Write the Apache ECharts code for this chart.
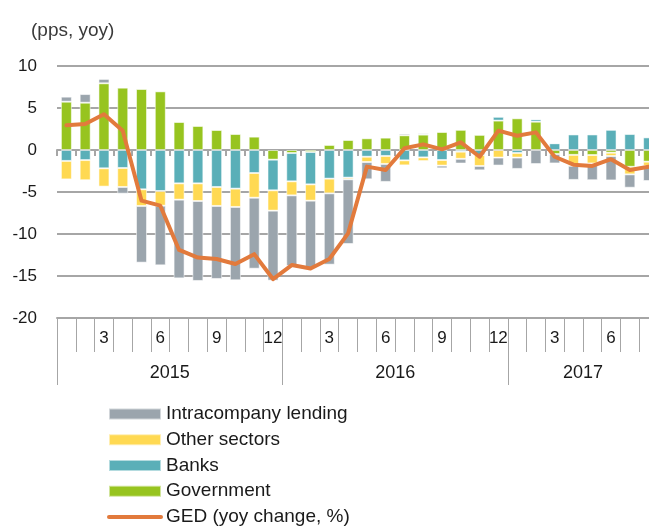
<!DOCTYPE html>
<html>
<head>
    <meta charset="utf-8">
    <title>GED contributions</title>
    <script src="https://cdn.jsdelivr.net/npm/echarts@6/dist/echarts.min.js"></script>
</head>
<body style="margin:0;overflow:hidden;">
    <!-- a bit wider than the window: the last month is cut at the right edge -->
    <div id="main" style="width: 658px;height:527px;"></div>
    <script type="text/javascript">
        var chart = echarts.init(document.getElementById('main'));

        // years shown and how many months of each
        var years = ['2015', '2016', '2017'];
        var monthsInYear = [12, 12, 8];

        // contributions, pps (Jan 2015 .. Aug 2017)
        var government = [5.75, 5.63, 7.94, 7.42, 7.26, 6.98, 3.33, 2.86, 2.38, 1.9, 1.59, -1.15,
            -0.36, -0.24, 0.6, 1.19, 1.39, 1.47, 1.75, 1.83, 2.14, 2.4, 1.8, 3.5,
            3.77, 3.37, -0.48, -0.58, -0.6, -0.32, -2.0, -1.39];
        var banks = [-1.3, -1.2, -2.18, -2.14, -4.68, -4.88, -3.97, -3.97, -4.4, -4.6, -2.74, -3.65,
            -3.37, -3.85, -3.41, -3.29, -0.8, -0.71, -1.23, -0.88, -1.19, -0.2, -0.6, 0.45,
            -0.35, 0.3, 0.8, 1.85, 1.85, 2.4, 1.9, 1.5];
        var otherSectors = [-2.2, -2.4, -2.18, -2.26, -1.98, -1.75, -1.94, -2.1, -2.26, -2.18, -2.94, -2.42,
            -1.67, -1.94, -1.75, -0.2, -0.63, -0.95, -0.6, -0.44, -0.67, -0.85, -1.3, -0.9,
            -0.55, 0, 0, -1.3, -1.0, -0.4, -0.9, -0.5];
        var intracompany = [0.6, 1.03, 0.52, -0.8, -6.75, -7.1, -9.37, -9.52, -8.69, -8.73, -8.45, -8.33,
            -8.41, -8.06, -8.49, -7.7, -2.06, -2.14, 0.2, 0.16, -0.32, -0.56, -0.52, -0.95,
            -1.35, -1.67, -1.12, -1.68, -2.0, -2.9, -1.59, -1.8];
        // GED, yoy change %
        var ged = [2.94, 3.1, 4.25, 2.3, -6.03, -6.63, -11.9, -12.8, -12.98, -13.57, -12.4, -15.36,
            -13.7, -14.1, -12.98, -9.92, -1.98, -2.38, 0.2, 0.67, 0.08, 0.91, -0.8, 2.3,
            1.7, 2.1, -0.8, -1.75, -1.9, -1.1, -2.38, -2.0];

        var categories = [];
        var yearStart = [];
        var yearLabelAt = [];
        years.forEach(function (y, k) {
            yearStart.push(categories.length);
            yearLabelAt.push(categories.length + monthsInYear[k] / 2 - 1);
            for (var m = 1; m <= monthsInYear[k]; m++) categories.push(y + '-' + m);
        });

        var gridColor = '#a6a6a6';
        var font = 'Liberation Sans';

        function barSeries(name, data, color) {
            return {
                name: name,
                type: 'bar',
                stack: 'total',
                barWidth: 11,
                data: data,
                itemStyle: { color: color, borderColor: 'rgba(255,255,255,0.55)', borderWidth: 1 },
                emphasis: { disabled: true }
            };
        }

        var option = {
            backgroundColor: '#fff',
            animation: false,
            textStyle: { fontFamily: font },
            title: {
                text: '(pps, yoy)',
                left: 26,
                top: 16,
                textStyle: { fontSize: 19, fontWeight: 'normal', color: '#3a3a3a', fontFamily: font }
            },
            legend: {
                orient: 'vertical',
                left: 107,
                top: 404,
                height: 200,
                padding: 0,
                itemWidth: 52,
                itemHeight: 11,
                itemGap: 5.75,
                selectedMode: false,
                textStyle: { fontSize: 19, lineHeight: 20, color: '#1a1a1a', fontFamily: font },
                data: [
                    { name: 'Intracompany lending', icon: 'rect' },
                    { name: 'Other sectors', icon: 'rect' },
                    { name: 'Banks', icon: 'rect' },
                    { name: 'Government', icon: 'rect' },
                    {
                        name: 'GED (yoy change, %)',
                        itemStyle: { opacity: 0 },
                        lineStyle: { width: 4, cap: 'round', color: '#e27a3c' }
                    }
                ]
            },
            grid: { left: 57, top: 66, bottom: 209, right: 0 },
            yAxis: {
                type: 'value',
                min: -20,
                max: 10,
                interval: 5,
                axisLine: { show: false },
                axisTick: { show: false },
                axisLabel: { fontSize: 17, color: '#1a1a1a', margin: 20, fontFamily: font },
                splitLine: { lineStyle: { color: gridColor, width: 2 } }
            },
            xAxis: [
                {
                    // zero line with small ticks
                    type: 'category',
                    data: categories,
                    position: 'bottom',
                    axisLine: { onZero: true, lineStyle: { color: gridColor, width: 2 } },
                    axisTick: { show: true, interval: 0, length: 6, lineStyle: { color: gridColor, width: 2 } },
                    axisLabel: { show: false }
                },
                {
                    // months
                    type: 'category',
                    data: categories,
                    position: 'bottom',
                    axisLine: { onZero: false, show: true, lineStyle: { color: gridColor, width: 2 } },
                    axisTick: { show: true, interval: 0, length: 34, lineStyle: { color: gridColor, width: 1 } },
                    axisLabel: {
                        interval: 0,
                        margin: 12,
                        fontSize: 17,
                        color: '#1a1a1a',
                        fontFamily: font,
                        formatter: function (v) {
                            var m = +v.split('-')[1];
                            return m % 3 === 0 ? String(m) : '';
                        }
                    }
                },
                {
                    // years
                    type: 'category',
                    data: categories,
                    position: 'bottom',
                    axisLine: { onZero: false, show: false },
                    axisTick: {
                        show: true,
                        length: 67,
                        interval: function (i) { return yearStart.indexOf(i) >= 0; },
                        lineStyle: { color: gridColor, width: 1 }
                    },
                    axisLabel: {
                        margin: 46,
                        fontSize: 18,
                        color: '#1a1a1a',
                        fontFamily: font,
                        padding: [0, 0, 0, 19],
                        interval: function (i) { return yearLabelAt.indexOf(i) >= 0; },
                        formatter: function (v) { return v.split('-')[0]; }
                    }
                }
            ],
            series: [
                barSeries('Government', government, '#97c41f'),
                barSeries('Banks', banks, '#5aafb8'),
                barSeries('Other sectors', otherSectors, '#ffd952'),
                barSeries('Intracompany lending', intracompany, '#9ba5ad'),
                {
                    name: 'GED (yoy change, %)',
                    type: 'line',
                    data: ged,
                    symbol: 'none',
                    z: 5,
                    lineStyle: { color: '#e27a3c', width: 4, cap: 'round', join: 'round' },
                    itemStyle: { color: '#e27a3c' },
                    emphasis: { disabled: true }
                }
            ]
        };

        chart.setOption(option);
    </script>
</body>
</html>
